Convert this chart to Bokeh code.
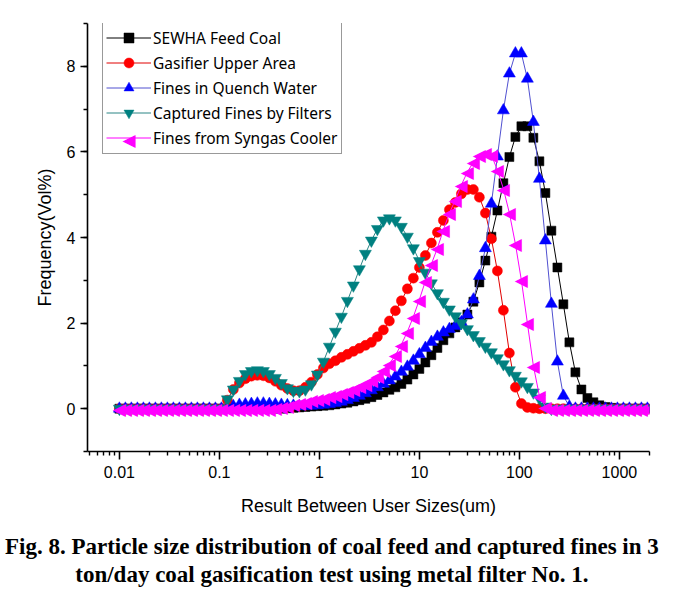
import math
from bokeh.plotting import figure
from bokeh.models import (Legend, LegendItem, SingleIntervalTicker, FixedTicker,
                          CustomJSTickFormatter, Div, ColumnDataSource, Label)
from bokeh.core.properties import value
from bokeh.layouts import column
from bokeh.embed import file_html
from bokeh.resources import INLINE

# ---------------- data ----------------
sizes_um = [0.01, 0.01148, 0.01318, 0.01514, 0.01738, 0.01995, 0.02291, 0.0263, 0.0302, 0.03467,
            0.03981, 0.04571, 0.05248, 0.06026, 0.06918, 0.07943, 0.0912, 0.1047, 0.1202, 0.138,
            0.1585, 0.182, 0.2089, 0.2399, 0.2754, 0.3162, 0.3631, 0.4169, 0.4786, 0.5495,
            0.631, 0.7244, 0.8318, 0.955, 1.096, 1.259, 1.445, 1.66, 1.905, 2.188,
            2.512, 2.884, 3.311, 3.802, 4.365, 5.012, 5.754, 6.607, 7.586, 8.71,
            10.0, 11.48, 13.18, 15.14, 17.38, 19.95, 22.91, 26.3, 30.2, 34.67,
            39.81, 45.71, 52.48, 60.26, 69.18, 79.43, 91.2, 104.7, 120.2, 138.0,
            158.5, 182.0, 208.9, 239.9, 275.4, 316.2, 363.1, 416.9, 478.6, 549.5,
            631.0, 724.4, 831.8, 955.0, 1096, 1259, 1445, 1660, 1905]

feed_coal = [0, 0, 0, 0, 0, 0, 0, 0, 0, 0,
             0, 0, 0, 0, 0, 0, 0, 0, 0, 0,
             0, 0, 0, 0, 0, 0, 0, 0, 0.01, 0.02,
             0.03, 0.04, 0.05, 0.06, 0.07, 0.08, 0.1, 0.12, 0.14, 0.17,
             0.2, 0.23, 0.27, 0.32, 0.38, 0.44, 0.5, 0.58, 0.68, 0.8,
             0.93, 1.08, 1.25, 1.42, 1.6, 1.76, 1.9, 2.02, 2.2, 2.5,
             2.95, 3.46, 4.02, 4.63, 5.27, 5.88, 6.35, 6.6, 6.6, 6.33,
             5.78, 5.04, 4.16, 3.3, 2.44, 1.55, 0.85, 0.45, 0.25, 0.15,
             0.08, 0.04, 0.02, 0, 0, 0, 0, 0, 0]

gasifier_upper = [0, 0, 0, 0, 0, 0, 0, 0, 0, 0,
                  0, 0, 0, 0, 0, 0, 0, 0, 0.2, 0.45,
                  0.6, 0.7, 0.76, 0.78, 0.77, 0.72, 0.64, 0.55, 0.47, 0.42,
                  0.42, 0.5, 0.62, 0.8, 0.95, 1.05, 1.12, 1.2, 1.27, 1.34,
                  1.41, 1.48, 1.55, 1.68, 1.84, 2.05, 2.29, 2.52, 2.8, 3.05,
                  3.3, 3.58, 3.87, 4.12, 4.4, 4.65, 4.82, 5.02, 5.12, 5.12,
                  4.94, 4.57, 3.97, 3.22, 2.3, 1.3, 0.5, 0.12, 0.03, 0.01,
                  0, 0, 0, 0, 0, 0, 0, 0, 0, 0,
                  0, 0, 0, 0, 0, 0, 0, 0, 0]

quench_water = [0, 0, 0, 0, 0, 0, 0, 0, 0, 0,
                0, 0, 0, 0, 0, 0, 0, 0, 0, 0.06,
                0.09, 0.1, 0.11, 0.12, 0.12, 0.11, 0.1, 0.09, 0.08, 0.07,
                0.06, 0.06, 0.07, 0.08, 0.09, 0.11, 0.13, 0.16, 0.2, 0.25,
                0.3, 0.36, 0.43, 0.5, 0.58, 0.66, 0.75, 0.86, 0.98, 1.12,
                1.27, 1.42, 1.56, 1.68, 1.78, 1.86, 1.93, 2.02, 2.2, 2.55,
                3.1, 3.75, 4.79, 5.89, 6.97, 7.83, 8.3, 8.3, 7.71, 6.7,
                5.37, 3.93, 2.45, 1.1, 0.3, 0.05, 0, 0, 0, 0,
                0, 0, 0, 0, 0, 0, 0, 0, 0]

filters = [0, 0, 0, 0, 0, 0, 0, 0, 0, 0,
           0, 0, 0, 0, 0, 0, 0, 0, 0.22, 0.45,
           0.65, 0.81, 0.88, 0.9, 0.88, 0.81, 0.72, 0.6, 0.48, 0.42,
           0.41, 0.45, 0.57, 0.8, 1.1, 1.45, 1.8, 2.15, 2.52, 2.88,
           3.26, 3.62, 3.93, 4.2, 4.4, 4.45, 4.4, 4.25, 4.02, 3.75,
           3.45, 3.18, 2.93, 2.7, 2.5, 2.32, 2.16, 2.0, 1.86, 1.72,
           1.58, 1.45, 1.32, 1.18, 1.04, 0.9, 0.77, 0.64, 0.51, 0.38,
           0.24, 0.05, 0, 0, 0, 0, 0, 0, 0, 0,
           0, 0, 0, 0, 0, 0, 0, 0, 0]

syngas_cooler = [0, 0, 0, 0, 0, 0, 0, 0, 0, 0,
                 0, 0, 0, 0, 0, 0, 0, 0, 0, 0,
                 0, 0, 0, 0, 0, 0, 0.02, 0.04, 0.07, 0.1,
                 0.13, 0.16, 0.2, 0.23, 0.26, 0.29, 0.32, 0.36, 0.41, 0.46,
                 0.52, 0.58, 0.66, 0.76, 0.9, 1.05, 1.25, 1.5, 1.8, 2.15,
                 2.55, 2.98, 3.38, 3.75, 4.18, 4.57, 4.88, 5.23, 5.53, 5.76,
                 5.92, 5.98, 5.92, 5.58, 5.14, 4.57, 3.85, 3.0, 2.0, 1.0,
                 0.3, 0.05, 0, 0, 0, 0, 0, 0, 0, 0,
                 0, 0, 0, 0, 0, 0, 0, 0, 0]

series_names = ["SEWHA Feed Coal", "Gasifier Upper Area", "Fines in Quench Water",
                "Captured Fines by Filters", "Fines from Syngas Cooler"]
x_ticks = [0.01, 0.1, 1, 10, 100, 1000]

# ---------------- figure ----------------
X0, X1, Y0, Y1 = 0.0048, 2000, -1, 9
FW, FH = 562, 428
p = figure(x_axis_type="log", x_range=(X0, X1), y_range=(Y0, Y1),
           frame_width=FW, frame_height=FH,
           min_border_left=87, min_border_right=24, min_border_top=23, min_border_bottom=75,
           output_backend="svg", toolbar_location=None)
p.xgrid.visible = False
p.ygrid.visible = False
p.outline_line_color = None
p.background_fill_color = "white"
p.border_fill_color = "white"

LEFT_TRI = "\u25C0"
TRI_FONT = "17px"

styles = [
    dict(y=feed_coal, line="black", fill="black", marker="square", size=9),
    dict(y=gasifier_upper, line="#e00000", fill="#ff0000", marker="circle", size=10),
    dict(y=quench_water, line="#5050d0", fill="#0000ff", marker="triangle", size=12),
    dict(y=filters, line="#2a8585", fill="#008080", marker="inverted_triangle", size=12),
    dict(y=syngas_cooler, line="#ff00ff", fill="#ff00ff", marker="left", size=12),
]

items = []
for name, st in zip(series_names, styles):
    src = ColumnDataSource(dict(x=sizes_um, y=st["y"], sym=[LEFT_TRI] * len(sizes_um)))
    lr = p.line("x", "y", source=src, line_color=st["line"], line_width=1)
    if st["marker"] == "left":
        sr = p.text("x", "y", text="sym", source=src, text_font=value("DejaVu Sans"),
                    text_font_size=TRI_FONT, text_align="center", text_baseline="middle",
                    text_color=st["fill"])
    else:
        sr = p.scatter("x", "y", source=src, marker=st["marker"], size=st["size"],
                       fill_color=st["fill"], line_color=st["fill"], line_width=0.5)
    items.append(LegendItem(label=name, renderers=[lr, sr], index=0))

LX, LY, PAD, GW, GH, LH = 15, 297, 3, 45, 25, 131
legend = Legend(items=items, location=(LX, LY), glyph_width=GW, glyph_height=GH,
                label_height=20, spacing=0, padding=PAD, label_standoff=2, margin=0,
                label_text_font="Noto Sans", label_text_font_size="15.5px",
                label_text_color="black", border_line_color="#333333", border_line_width=1,
                background_fill_color="white", background_fill_alpha=0.0)
p.add_layout(legend)

# legend symbol for the left-pointing triangle series (text glyphs draw no legend symbol):
# centre of the 5th legend glyph box, converted from frame pixels to axis units
sym_px = LX + 1 + PAD + GW / 2
sym_py = LY + LH - 1 - PAD - 4 * GH - GH / 2
lx0, lx1 = math.log10(X0), math.log10(X1)
sym_x = 10 ** (lx0 + sym_px / FW * (lx1 - lx0))
sym_y = Y0 + sym_py / FH * (Y1 - Y0)
p.add_layout(Label(x=sym_x, y=sym_y, text=LEFT_TRI, level="overlay",
                   text_font="DejaVu Sans", text_font_size=TRI_FONT,
                   text_align="center", text_baseline="middle", text_color="#ff00ff"))

# axes
minor = [m * 10.0 ** e for e in range(-3, 4) for m in range(2, 10)]
p.xaxis.ticker = FixedTicker(ticks=x_ticks, minor_ticks=minor)
p.xaxis.formatter = CustomJSTickFormatter(code="return String(+tick.toPrecision(3));")
p.yaxis.ticker = SingleIntervalTicker(interval=2, num_minor_ticks=2)

for ax in (p.xaxis, p.yaxis):
    ax.axis_line_width = 1.6
    ax.axis_line_color = "black"
    ax.major_tick_line_width = 1.6
    ax.minor_tick_line_width = 1.4
    ax.major_tick_line_color = "black"
    ax.minor_tick_line_color = "black"
    ax.major_tick_in = 0
    ax.minor_tick_in = 0
    ax.minor_tick_out = 4
    ax.major_label_text_font = "Liberation Sans"
    ax.major_label_text_font_size = "16px"
    ax.major_label_text_color = "black"
    ax.axis_label_text_font = "Liberation Sans"
    ax.axis_label_text_font_size = "18px"
    ax.axis_label_text_font_style = "normal"
    ax.axis_label_text_color = "black"

p.xaxis.major_tick_out = 8
p.yaxis.major_tick_out = 7
p.xaxis.major_label_standoff = 6
p.yaxis.major_label_standoff = 5
p.xaxis.axis_label = "Result Between User Sizes(um)"
p.yaxis.axis_label = "Frequency(Vol%)"
p.xaxis.axis_label_standoff = 15
p.yaxis.axis_label_standoff = 9

caption = Div(
    text=('<div style="font-family:\'Liberation Serif\',serif;font-weight:bold;font-size:23px;'
          'text-align:center;line-height:28px;color:black;margin-top:2px;">'
          'Fig. 8. Particle size distribution of coal feed and captured fines in 3<br>'
          'ton/day coal gasification test using metal filter No. 1.</div>'),
    width=681)

layout = column(p, caption)
open("out.html", "w").write(file_html(layout, INLINE))
